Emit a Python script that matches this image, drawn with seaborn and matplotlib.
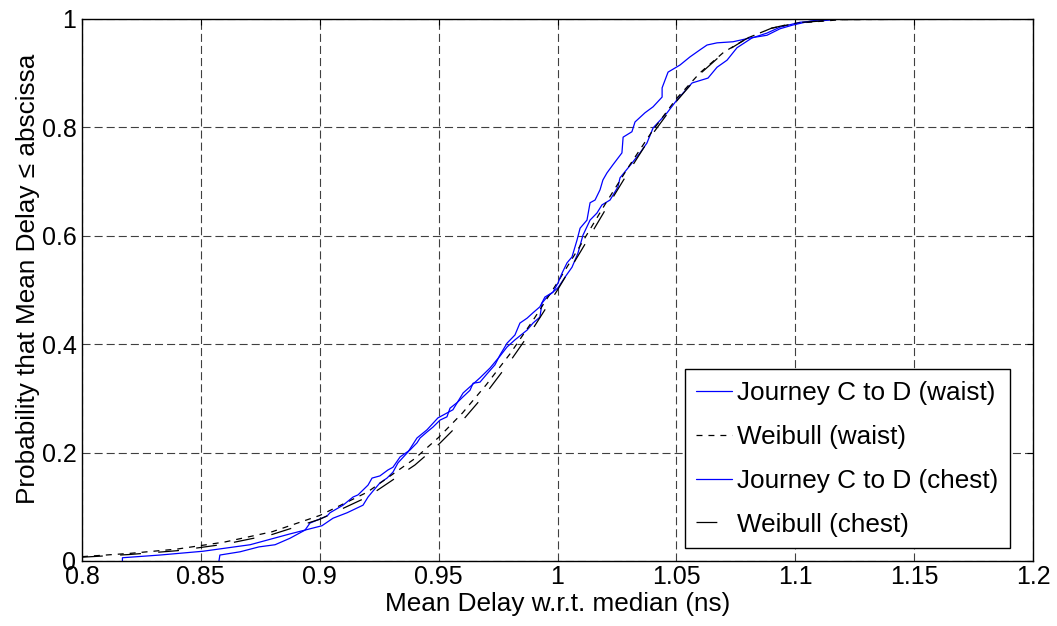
import matplotlib
matplotlib.use("Agg")
import matplotlib.pyplot as plt
import seaborn as sns

# ---------------- data ----------------
# Empirical CDF, Journey C to D (waist)
waist_emp_x = [0.817, 0.817, 0.8328, 0.8509, 0.8707, 0.8875, 0.9009, 0.9056, 0.9115, 0.9182,
               0.9203, 0.9220, 0.9253, 0.9283, 0.9308, 0.9329, 0.9371, 0.9409, 0.9451, 0.9497,
               0.9560, 0.9603, 0.9674, 0.9716, 0.9758, 0.9788, 0.9821, 0.9872, 0.9897, 0.9926,
               0.9935, 0.9956, 1.0002, 1.0032, 1.0061, 1.0086, 1.0107, 1.0137, 1.0166, 1.0187,
               1.0221, 1.0254, 1.0263, 1.0313, 1.0347, 1.0376, 1.0402, 1.0461, 1.0503, 1.0566,
               1.0633, 1.0671, 1.0713, 1.0755, 1.0818, 1.0881, 1.0936, 1.1020, 1.1146, 1.1188]
waist_emp_y = [0.000, 0.006, 0.011, 0.018, 0.030, 0.050, 0.065, 0.079, 0.089, 0.103,
               0.118, 0.127, 0.144, 0.153, 0.164, 0.181, 0.201, 0.227, 0.242, 0.264,
               0.279, 0.310, 0.338, 0.356, 0.378, 0.395, 0.408, 0.426, 0.439, 0.450,
               0.476, 0.487, 0.504, 0.524, 0.542, 0.568, 0.601, 0.629, 0.642, 0.657,
               0.666, 0.690, 0.707, 0.734, 0.753, 0.771, 0.799, 0.827, 0.851, 0.882,
               0.891, 0.911, 0.924, 0.947, 0.965, 0.974, 0.985, 0.994, 0.998, 1.000]

# Empirical CDF, Journey C to D (chest)
chest_emp_x = [0.8576, 0.8580, 0.8665, 0.8744, 0.8812, 0.8875, 0.8938, 0.8959, 0.9031, 0.9043,
               0.9098, 0.9140, 0.9161, 0.9203, 0.9220, 0.9253, 0.9287, 0.9308, 0.9338, 0.9380,
               0.9409, 0.9422, 0.9451, 0.9476, 0.9506, 0.9535, 0.9548, 0.9577, 0.9603, 0.9632,
               0.9645, 0.9674, 0.9703, 0.9737, 0.9758, 0.9788, 0.9821, 0.9842, 0.9872, 0.9897,
               0.9926, 0.9947, 0.9981, 1.0002, 1.0019, 1.0040, 1.0061, 1.0082, 1.0095, 1.0124,
               1.0137, 1.0158, 1.0179, 1.0191, 1.0208, 1.0233, 1.0271, 1.0276, 1.0313, 1.0326,
               1.0368, 1.0402, 1.0440, 1.0440, 1.0465, 1.0515, 1.0557, 1.0599, 1.0629, 1.0671,
               1.0738, 1.0810, 1.0881, 1.0936, 1.0991, 1.1062, 1.1125]
chest_emp_y = [0.000, 0.011, 0.017, 0.026, 0.030, 0.042, 0.057, 0.070, 0.083, 0.089,
               0.103, 0.118, 0.122, 0.140, 0.153, 0.157, 0.168, 0.173, 0.192, 0.205,
               0.218, 0.227, 0.238, 0.247, 0.260, 0.266, 0.282, 0.292, 0.303, 0.315,
               0.328, 0.330, 0.345, 0.362, 0.380, 0.402, 0.417, 0.439, 0.448, 0.458,
               0.469, 0.487, 0.496, 0.513, 0.531, 0.550, 0.561, 0.592, 0.614, 0.629,
               0.661, 0.666, 0.685, 0.703, 0.716, 0.731, 0.753, 0.782, 0.792, 0.810,
               0.827, 0.838, 0.856, 0.873, 0.902, 0.915, 0.930, 0.943, 0.952, 0.956,
               0.958, 0.965, 0.970, 0.982, 0.989, 0.996, 1.000]

# Weibull fits
weib_x = [0.80, 0.82, 0.84, 0.86, 0.88, 0.90, 0.92, 0.94, 0.95, 0.96, 0.97, 0.98, 0.99,
          1.00, 1.01, 1.02, 1.03, 1.04, 1.05, 1.06, 1.07, 1.08, 1.09, 1.10, 1.12, 1.20]
weib_waist_y = [0.008, 0.014, 0.022, 0.035, 0.054, 0.084, 0.127, 0.189, 0.228, 0.273,
                0.325, 0.382, 0.446, 0.514, 0.585, 0.658, 0.728, 0.794, 0.853, 0.901,
                0.939, 0.965, 0.983, 0.992, 0.999, 1.000]
weib_chest_y = [0.007, 0.012, 0.019, 0.031, 0.049, 0.077, 0.118, 0.177, 0.215, 0.259,
                0.310, 0.368, 0.431, 0.500, 0.573, 0.647, 0.719, 0.788, 0.848, 0.899,
                0.938, 0.965, 0.983, 0.993, 0.999, 1.000]

x_ticks = [0.8, 0.85, 0.9, 0.95, 1.0, 1.05, 1.1, 1.15, 1.2]
x_tick_labels = ["0.8", "0.85", "0.9", "0.95", "1", "1.05", "1.1", "1.15", "1.2"]
y_ticks = [0, 0.2, 0.4, 0.6, 0.8, 1.0]
y_tick_labels = ["0", "0.2", "0.4", "0.6", "0.8", "1"]

labels = ["Journey C to D (waist)", "Weibull (waist)",
          "Journey C to D (chest)", "Weibull (chest)"]

# ---------------- style ----------------
sns.set_style("white")
plt.rcParams["font.family"] = ["Liberation Sans", "DejaVu Sans"]
plt.rcParams["lines.scale_dashes"] = False
for k in ("text.color", "axes.labelcolor", "xtick.color", "ytick.color"):
    plt.rcParams[k] = "black"
FS_TICK = 18
FS_LABEL = 18.8

fig = plt.figure(figsize=(10.57, 6.26), dpi=100)
ax = fig.add_axes([82 / 1057, 65 / 626, 951 / 1057, 542 / 626])

blue = "#0000ff"
sns.lineplot(x=waist_emp_x, y=waist_emp_y, ax=ax, estimator=None, sort=False,
             color=blue, linewidth=0.9, label=labels[0])
sns.lineplot(x=weib_x, y=weib_waist_y, ax=ax, estimator=None, sort=False,
             color="black", linewidth=0.9, linestyle=(0, (4.3, 4.3)), label=labels[1])
sns.lineplot(x=chest_emp_x, y=chest_emp_y, ax=ax, estimator=None, sort=False,
             color=blue, linewidth=0.9, label=labels[2])
sns.lineplot(x=weib_x, y=weib_chest_y, ax=ax, estimator=None, sort=False,
             color="black", linewidth=0.9, linestyle=(0, (15, 12.5)), label=labels[3])

ax.set_xlim(0.8, 1.2)
ax.set_ylim(0, 1)
ax.set_xticks(x_ticks)
ax.set_xticklabels(x_tick_labels)
ax.set_yticks(y_ticks)
ax.set_yticklabels(y_tick_labels)

ax.grid(True, color="#404040", linewidth=0.8, linestyle=(0, (5.8, 2.9)))
ax.set_axisbelow(True)

for s in ax.spines.values():
    s.set_color("black")
    s.set_linewidth(1.0)
    s.set_visible(True)

ax.tick_params(direction="in", length=4.5, width=0.8, top=True, right=True,
               labelsize=FS_TICK, colors="black")
ax.tick_params(axis="x", pad=3)
ax.tick_params(axis="y", pad=4)

ax.set_xlabel("Mean Delay w.r.t. median (ns)", fontsize=FS_LABEL, labelpad=2)
ax.set_ylabel("Probability that Mean Delay \u2264 abscissa", fontsize=FS_LABEL)
ax.yaxis.set_label_coords(-0.044, 0.52)

leg = ax.legend(loc="lower right", bbox_to_anchor=(0.976, 0.024), fontsize=FS_LABEL,
                frameon=True, fancybox=False, framealpha=1, edgecolor="black",
                handlelength=1.36, handletextpad=0.22, labelspacing=0.76,
                borderpad=0.44, borderaxespad=0)
leg.get_frame().set_linewidth(1.0)

fig.savefig("out.png", dpi=100)
